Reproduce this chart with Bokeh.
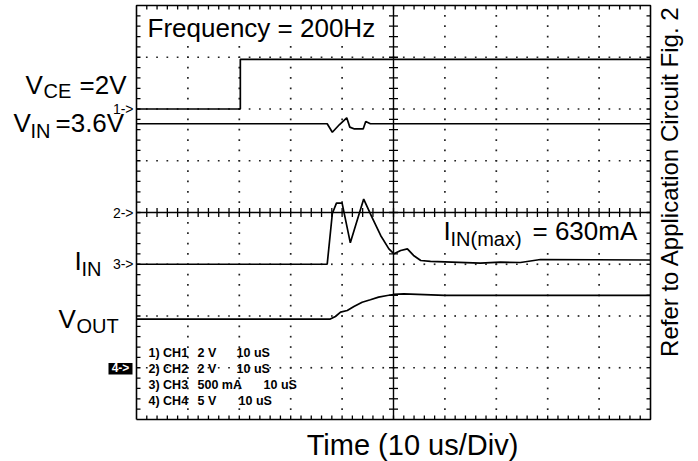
import numpy as np
from bokeh.plotting import figure
from bokeh.models import Range1d
from bokeh.core.properties import value
from bokeh.embed import file_html
from bokeh.resources import INLINE

# ---------------- waveform data (time in us) ----------------
TIME_PER_DIV = 10.0  # us / div

# CH1: V_CE enable step, 2 V/div, ground marker at +2 div
ch1_t = [0.0, 20.2, 20.2, 100.0]
ch1_v = [0.0, 0.0, 1.92, 1.92]

# CH2: V_IN supply, 2 V/div, ground marker at center
ch2_t = [0.0, 37.1, 38.1, 39.5, 40.9, 41.5, 42.4, 44.1, 44.6, 45.5, 100.0]
ch2_v = [3.43, 3.43, 3.10, 3.40, 3.66, 3.30, 3.23, 3.23, 3.52, 3.43, 3.43]

# CH3: input current I_IN, 500 mA/div, ground marker at -1 div
ch3_t = [0.0, 37.1, 38.1, 38.9, 40.0, 41.6, 44.2, 45.8, 47.5, 49.1, 50.1,
         51.4, 52.7, 53.9, 55.3, 57.2, 66.9, 70.8, 74.7, 78.6, 100.0]
ch3_i = [0, 0, 490, 590, 590, 207, 630, 455, 278, 149, 101,
         133, 149, 85, 36, 27, 10, 20, 17, 46, 41]

# CH4: output voltage V_OUT, 5 V/div, ground marker at -3 div
ch4_t = [0.0, 37.7, 38.7, 39.7, 41.0, 42.3, 43.9, 45.5, 47.1, 48.8, 50.0,
         52.0, 60.0, 100.0]
ch4_v = [4.70, 4.70, 4.95, 5.37, 5.53, 5.92, 6.33, 6.57, 6.82, 6.98, 7.08,
         7.14, 7.00, 7.00]

# channel settings: (offset in div, units per div)
ch_offset = [2.0, 0.0, -1.0, -3.0]
ch_scale = [2.0, 2.0, 500.0, 5.0]

# scope on-screen settings legend
legend_ch = ["1) CH1", "2) CH2", "3) CH3", "4) CH4"]
legend_vdiv = ["2 V", "2 V", "500 mA", "5 V"]
legend_tdiv = ["10 uS", "10 uS", "10 uS", "10 uS"]
marker_labels = ["1->", "2->", "3->"]

# ---------------- page geometry ----------------
W, H = 698, 461
SCR_L, SCR_R, SCR_T, SCR_B = 136.0, 650.0, 5.0, 419.0
KX = (SCR_R - SCR_L) / 10.0
KY = (SCR_B - SCR_T) / 8.0
YC = (SCR_T + SCR_B) / 2.0


def dx(px):
    return (px - SCR_L) / KX


def dy(py):
    return (YC - py) / KY


p = figure(width=W, height=H, output_backend="svg", toolbar_location=None,
           x_range=Range1d(dx(0), dx(W)), y_range=Range1d(dy(H), dy(0)),
           x_axis_type=None, y_axis_type=None, min_border=0,
           background_fill_color="white", border_fill_color="white")
p.outline_line_color = None
p.grid.visible = False

FONT = value("Liberation Sans")
INK = "black"

# ---------------- graticule ----------------
minor_x = [round(0.2 * k, 4) for k in range(1, 50)]
minor_y = [round(-4.0 + 0.2 * k, 4) for k in range(1, 40)]
nx, ny = len(minor_x), len(minor_y)

gx, gy = [], []
for xv in [1, 2, 3, 4, 6, 7, 8, 9]:
    gx += [float(xv)] * ny
    gy += minor_y
for yv in [-3, -2, -1, 1, 2, 3]:
    gx += minor_x
    gy += [float(yv)] * nx
p.scatter(gx, gy, marker="square", size=1.7, color="#222222", line_color=None)

# white plates behind the in-screen captions
p.quad(left=[dx(141), dx(440)], right=[dx(386), dx(644)],
       top=[dy(9), dy(217)], bottom=[dy(45), dy(252)],
       fill_color="white", line_color=None)

# screen border and center cross
p.line([0, 10, 10, 0, 0], [-4, -4, 4, 4, -4], line_color=INK, line_width=1.6)
p.line([5.0, 5.0], [-4.0, 4.0], line_color=INK, line_width=1.4)
p.line([0.0, 10.0], [0.0, 0.0], line_color=INK, line_width=1.4)

TB = 4.0  # border tick length, px (pointing inwards)
TC = 4.5  # center tick half length, px
tby, tbx = TB / KY, TB / KX
tcy, tcx = TC / KY, TC / KX

# graticule ticks, one short segment each
TICK = dict(line_color=INK, line_width=1.3)
p.segment(x0=minor_x, y0=[4.0] * nx, x1=minor_x, y1=[4.0 - tby] * nx, **TICK)
p.segment(x0=minor_x, y0=[-4.0] * nx, x1=minor_x, y1=[-4.0 + tby] * nx, **TICK)
p.segment(x0=minor_x, y0=[-tcy] * nx, x1=minor_x, y1=[tcy] * nx, **TICK)
p.segment(x0=[0.0] * ny, y0=minor_y, x1=[tbx] * ny, y1=minor_y, **TICK)
p.segment(x0=[10.0] * ny, y0=minor_y, x1=[10.0 - tbx] * ny, y1=minor_y, **TICK)
p.segment(x0=[5.0 - tcx] * ny, y0=minor_y, x1=[5.0 + tcx] * ny, y1=minor_y, **TICK)

# ---------------- traces ----------------
traces = [(ch1_t, ch1_v), (ch2_t, ch2_v), (ch3_t, ch3_i), (ch4_t, ch4_v)]
for (t, v), off, sc in zip(traces, ch_offset, ch_scale):
    xs = np.asarray(t, dtype=float) / TIME_PER_DIV
    ys = off + np.asarray(v, dtype=float) / sc
    p.line(xs, ys, line_color=INK, line_width=1.7)

# ---------------- channel markers ----------------
p.text(x=[dx(133)] * 3, y=ch_offset[:3], text=marker_labels, text_font=FONT,
       text_font_size="14px", text_align="right", text_baseline="middle",
       text_color=INK)
p.quad(left=[dx(108)], right=[dx(132)], top=[dy(362.5)], bottom=[dy(374)],
       fill_color="black", line_color=None)
p.text(x=[dx(120)], y=[ch_offset[3]], text=["4->"], text_font=FONT,
       text_font_size="12px", text_font_style="bold", text_align="center",
       text_baseline="middle", text_color="white")

# settings legend
rows_y = [dy(352), dy(368), dy(384), dy(400)]
LEG_SIZE = "12.5px"
p.text(x=[dx(148)] * 4, y=rows_y, text=legend_ch, text_font=FONT,
       text_font_size=LEG_SIZE, text_font_style="bold", text_baseline="middle",
       text_color=INK)
p.text(x=[dx(197)] * 4, y=rows_y, text=legend_vdiv, text_font=FONT,
       text_font_size=LEG_SIZE, text_font_style="bold", text_baseline="middle",
       text_color=INK)
p.text(x=[dx(236), dx(236), dx(263), dx(238)], y=rows_y, text=legend_tdiv,
       text_font=FONT, text_font_size=LEG_SIZE, text_font_style="bold",
       text_baseline="middle", text_color=INK)


# ---------------- captions ----------------
def cap(x, base, s, size=26, align="left", angle=0.0):
    # place by baseline pixel, using a vertically centered anchor
    p.text(x=[dx(x)], y=[dy(base - 0.35 * size)], text=[s], text_font=FONT,
           text_font_size=f"{size}px", text_align=align, text_baseline="middle",
           angle=angle, text_color=INK)


cap(147, 37, "Frequency = 200Hz")

# V_CE =2V
cap(25, 94, "V")
cap(43, 97, "CE", size=20)
cap(79, 94, "=2V")
# V_IN =3.6V
cap(13, 132, "V")
cap(30, 137, "IN", size=20)
cap(55, 132, "=3.6V")
# I_IN
cap(74, 270, "I")
cap(81, 275, "IN", size=20)
# V_OUT
cap(58, 328, "V")
cap(76, 332, "OUT", size=20)
# I_IN(max) = 630mA
cap(443, 240, "I")
cap(450, 245, "IN(max)", size=20)
cap(532, 240, "= 630mA")

# x axis caption
cap(412, 455, "Time (10 us/Div)", size=29, align="center")

# side note, reading upwards
p.text(x=[dx(669)], y=[dy(181)], text=["Refer to Application Circuit Fig. 2"],
       text_font=FONT, text_font_size="24px", text_align="center",
       text_baseline="middle", angle=np.pi / 2, text_color=INK)

open("out.html", "w").write(file_html(p, INLINE))
